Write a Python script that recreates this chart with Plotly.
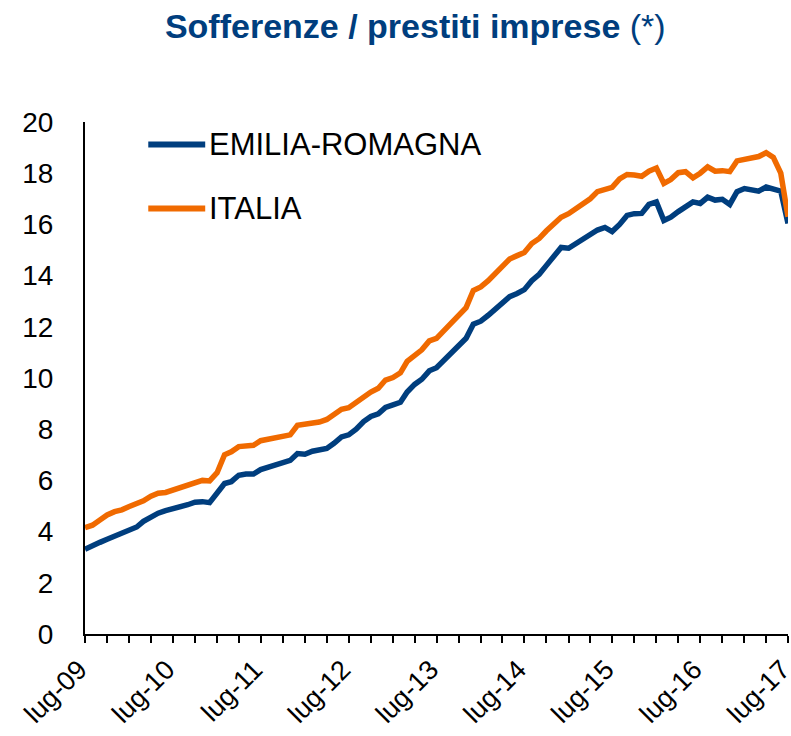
import pandas as pd
import plotly.graph_objects as go

# Sofferenze / prestiti imprese, dati mensili lug-09 .. lug-17
months = pd.date_range("2009-07-01", periods=97, freq="MS")

emilia_romagna = [
    3.31, 3.42, 3.58, 3.70, 3.83, 3.95, 4.10, 4.18, 4.40, 4.58, 4.72, 4.82,
    4.88, 4.95, 5.05, 5.15, 5.17, 5.13, 5.55, 5.88, 5.95, 6.20, 6.25, 6.25,
    6.42, 6.52, 6.60, 6.68, 6.78, 7.05, 7.02, 7.14, 7.20, 7.25, 7.45, 7.70,
    7.78, 8.00, 8.30, 8.50, 8.60, 8.85, 8.95, 9.05, 9.45, 9.75, 9.95, 10.28,
    10.40, 10.70, 10.98, 11.25, 11.55, 12.10, 12.22, 12.45, 12.70, 12.95, 13.18, 13.30,
    13.45, 13.80, 14.05, 14.40, 14.75, 15.10, 15.07, 15.25, 15.40, 15.58, 15.78, 15.88,
    15.72, 16.00, 16.35, 16.42, 16.43, 16.78, 16.88, 16.15, 16.28, 16.50, 16.72, 16.88,
    16.82, 17.06, 16.95, 16.98, 16.78, 17.28, 17.40, 17.35, 17.30, 17.46, 17.40, 17.30,
    16.04,
]

italia = [
    4.15, 4.25, 4.45, 4.65, 4.78, 4.85, 4.98, 5.08, 5.20, 5.38, 5.50, 5.53,
    5.62, 5.72, 5.82, 5.95, 6.00, 5.98, 6.30, 7.00, 7.12, 7.32, 7.36, 7.37,
    7.55, 7.62, 7.68, 7.75, 7.78, 8.15, 8.18, 8.20, 8.28, 8.38, 8.55, 8.78,
    8.84, 9.05, 9.28, 9.45, 9.60, 9.92, 10.02, 10.20, 10.65, 10.85, 11.10, 11.45,
    11.55, 11.85, 12.15, 12.40, 12.75, 13.42, 13.56, 13.80, 14.05, 14.35, 14.65, 14.78,
    14.90, 15.25, 15.45, 15.75, 16.00, 16.28, 16.42, 16.62, 16.80, 17.00, 17.28, 17.38,
    17.45, 17.78, 17.95, 17.93, 17.88, 18.08, 18.20, 17.60, 17.75, 18.02, 18.06, 17.82,
    18.00, 18.25, 18.08, 18.10, 18.06, 18.48, 18.52, 18.58, 18.65, 18.80, 18.62, 18.00,
    16.30,
]

tick_dates = pd.date_range("2009-07-01", periods=9, freq="12MS")
tick_labels = ["lug-09", "lug-10", "lug-11", "lug-12", "lug-13",
               "lug-14", "lug-15", "lug-16", "lug-17"]

series = [("EMILIA-ROMAGNA", emilia_romagna, "#003E7E"),
          ("ITALIA", italia, "#F06A00")]

fig = go.Figure()
for name, vals, col in series:
    fig.add_trace(go.Scatter(x=months, y=vals, name=name, mode="lines",
                             line=dict(color=col, width=5.5)))

# legenda disegnata a mano (linea lunga come nell'originale)
leg_y = [0.956, 0.831]
for (name, vals, col), yy in zip(series, leg_y):
    fig.add_shape(type="line", xref="paper", yref="paper",
                  x0=0.09, x1=0.171, y0=yy, y1=yy,
                  line=dict(color=col, width=6))
    fig.add_annotation(text=name, xref="paper", yref="paper",
                       x=0.174, y=yy, xanchor="left", yanchor="middle",
                       showarrow=False, font=dict(size=31, color="black"))

fig.update_layout(
    width=791, height=736,
    margin=dict(l=85, r=3, t=122, b=102),
    plot_bgcolor="white", paper_bgcolor="white",
    font=dict(family="Liberation Sans, Arial, sans-serif", size=28, color="black"),
    title=dict(
        text="<b>Sofferenze / prestiti imprese</b> (*)",
        x=0.525, xanchor="center", y=0.964, yanchor="middle",
        font=dict(family="Liberation Sans Narrow, Arial Narrow, Liberation Sans, sans-serif",
                  size=34, color="#003E7E"),
    ),
    showlegend=False,
)

fig.update_xaxes(
    range=[months[0], months[-1]],
    automargin=False,
    showline=True, linecolor="black", linewidth=2,
    showgrid=False, zeroline=False,
    tickvals=tick_dates, ticktext=tick_labels, tickangle=-45,
    tickfont=dict(size=27),
    ticks="outside", ticklen=7, tickwidth=2, tickcolor="black",
    ticklabelstandoff=0, ticklabelshift=-6,
    ticklabeloverflow="allow",  # senza questo lug-17 sparisce (sborda a destra)
    minor=dict(dtick="M3", tick0="2009-07-01", ticks="outside", ticklen=7,
               tickwidth=2, tickcolor="black", showgrid=False),
)
fig.update_yaxes(
    range=[0, 20], dtick=2, automargin=False,
    showline=True, linecolor="black", linewidth=2,
    showgrid=False, zeroline=False, ticks="",
    ticklabelstandoff=24,
)

fig.write_html("out.html", config={"displayModeBar": False},
               post_script="document.body.style.margin='0';")
